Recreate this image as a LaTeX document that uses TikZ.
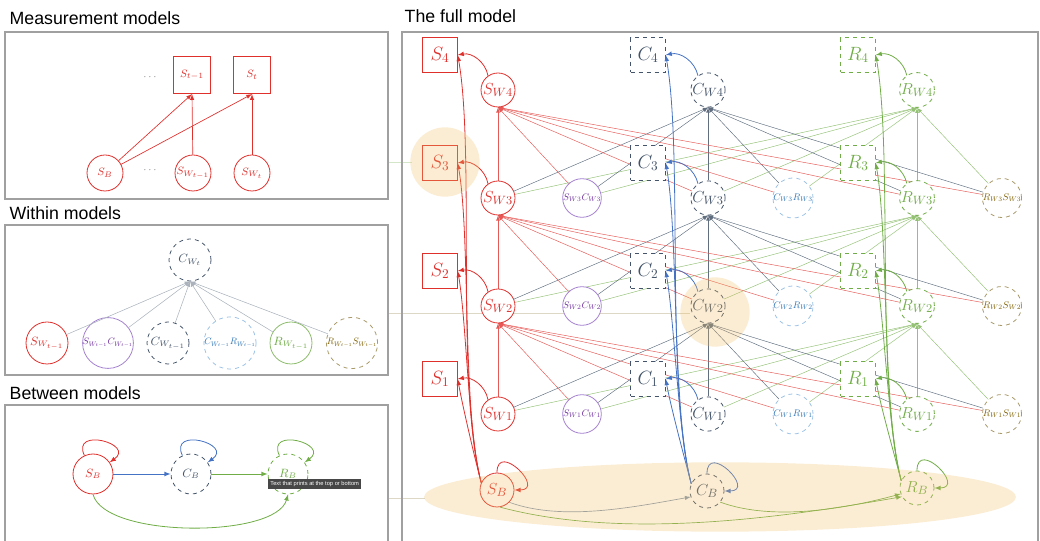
\documentclass[tikz,border=0pt]{standalone}
\usepackage[no-math]{fontspec}
\setmainfont{Liberation Sans}
\usepackage{graphicx}
\usetikzlibrary{positioning,backgrounds}
\definecolor{sred}{RGB}{224,48,44}
\definecolor{cdark}{HTML}{44546A}
\definecolor{cblue}{HTML}{4472C4}
\definecolor{cbgray}{HTML}{8497B0}
\definecolor{rgreen}{HTML}{70AD47}
\definecolor{scpurple}{HTML}{7030A0}
\definecolor{scline}{HTML}{A582D0}
\definecolor{crblue}{HTML}{2E75B6}
\definecolor{crlight}{HTML}{9DC3E6}
\definecolor{rsolive}{HTML}{7F6000}
\definecolor{rsline}{HTML}{A99A6A}
\definecolor{panelgray}{HTML}{A0A0A0}
\definecolor{linkc}{HTML}{DDD8C6}
\definecolor{hilite}{RGB}{242,190,100}
\newcommand{\xlab}[2][0.72]{\scalebox{#1}{$#2$}}
\begin{document}
\begin{tikzpicture}[x=0.75pt,y=-0.75pt,
ttl/.style={anchor=west,font=\fontsize{13.3}{16}\selectfont},
panel/.style={draw=panelgray,line width=0.8pt},
box/.style={rectangle,draw,fill=white,line width=0.6pt,minimum size=26pt,inner sep=0pt,font=\fontsize{14}{16}\selectfont},
circ/.style={circle,draw,fill=white,line width=0.6pt,minimum size=25.5pt,inner sep=0pt,font=\fontsize{12.5}{14}\selectfont},
xlat/.style={minimum size=24pt,font=\fontsize{10}{12}\selectfont},
sobs/.style={box,draw=sred,text=sred},
cobs/.style={box,draw=cdark,text=cdark,dashed},
robs/.style={box,draw=rgreen,text=rgreen,dashed},
slat/.style={circ,draw=sred,text=sred},
clat/.style={circ,draw=cdark,text=cdark,dashed},
rlat/.style={circ,draw=rgreen,text=rgreen,dashed},
sclat/.style={circ,xlat,draw=scline,text=scpurple},
crlat/.style={circ,xlat,draw=crlight,text=crblue,dashed},
rslat/.style={circ,xlat,draw=rsline,text=rsolive,dashed},
msz/.style={minimum size=28pt,font=\fontsize{8}{9}\selectfont},
wsz/.style={minimum size=31.5pt,font=\fontsize{9}{10}\selectfont},
wxsz/.style={minimum size=31.5pt,font=\fontsize{10}{12}\selectfont},
bsz/.style={minimum size=30pt,font=\fontsize{9}{10}\selectfont},
sw/.style={-latex,draw=sred!80,line width=0.35pt},
cw/.style={-latex,draw=cdark!85,line width=0.35pt},
rw/.style={-latex,draw=rgreen!75,line width=0.35pt},
sarr/.style={-latex,draw=sred,line width=0.6pt},
carr/.style={-latex,draw=cblue,line width=0.6pt},
rarr/.style={-latex,draw=rgreen,line width=0.6pt},
glow/.style={fill=hilite,opacity=0.28},
link/.style={draw=linkc,line width=0.7pt}]
\useasboundingbox (0,0) rectangle (1040,541);

\node[ttl] (tm) at (5,18) {Measurement models};
\draw[panel] (5,32) rectangle (388,199);
\node[sobs,msz] (mSp) at (192,75) {$S_{t-1}$};
\node[sobs,msz] (mS) at (252,75) {$S_t$};
\node[slat,msz,minimum size=27pt] (mSB) at (105,173) {$S_B$};
\node[slat,msz,minimum size=27pt] (mSWp) at (193,173) {$S_{W_{t-1}}$};
\node[slat,msz,minimum size=27pt] (mSW) at (252,173) {$S_{W_t}$};
\node[text=black!55,font=\fontsize{7}{8}\selectfont] (md1) at (150,77) {$\cdots$};
\node[text=black!55,font=\fontsize{7}{8}\selectfont] (md2) at (150,170) {$\cdots$};
\foreach \A/\B in {mSB/mSp,mSB/mS,mSWp/mSp,mSW/mS}
 \draw[sarr,line width=0.5pt] (\A) -- (\B.south);

\node[ttl] (tw) at (5,213) {Within models};
\draw[panel] (5,225) rectangle (388,375);
\node[clat,wsz] (wCW) at (190,260) {$C_{W_t}$};
\node[slat,wsz] (wSW) at (47,343) {$S_{W_{t-1}}$};
\node[sclat,wxsz] (wSC) at (108,343) {\xlab[0.7]{S_{W_{t-1}}C_{W_{t-1}}}};
\node[clat,wsz] (wC) at (168,343) {$C_{W_{t-1}}$};
\node[crlat,wxsz] (wCR) at (230,343) {\xlab[0.7]{C_{W_{t-1}}R_{W_{t-1}}}};
\node[circ,wsz,draw=rgreen!80,text=rgreen] (wR) at (291,343) {$R_{W_{t-1}}$};
\node[rslat,wxsz] (wRS) at (352,343) {\xlab[0.7]{R_{W_{t-1}}S_{W_{t-1}}}};
\foreach \N in {wSW,wSC,wC,wCR,wR,wRS}
 \draw[-latex,draw=cdark!45,line width=0.4pt] (\N) -- (wCW.south);

\node[ttl] (tb) at (5,393) {Between models};
\draw[panel] (5,545) |- (388,405) -- (388,545);
\node[slat,bsz] (bSB) at (93,474) {$S_B$};
\node[clat,bsz] (bCB) at (191,474) {$C_B$};
\node[rlat,bsz] (bRB) at (288,474) {$R_B$};
\draw[sarr] (bSB) to[out=115,in=35,min distance=24pt] (bSB);
\draw[carr] (bCB) to[out=115,in=35,min distance=24pt] (bCB);
\draw[rarr] (bRB) to[out=115,in=35,min distance=24pt] (bRB);
\draw[carr] (bSB) -- (bCB);
\draw[rarr] (bCB) -- (bRB);
\draw[rarr] (bSB.south) to[out=-75,in=-105,looseness=0.6] (bRB.south);
\node[fill=black!72,text=white,font=\fontsize{4.3}{5}\selectfont,inner sep=1.6pt,anchor=north west] (tip) at (268,479) {Text that prints at the top or bottom};

\node[ttl] (tf) at (400,16) {The full model};
\draw[panel] (402,545) |- (1038,32) -- (1038,545);
\foreach \T/\Y in {1/414,2/306,3/198,4/90}
{\node[sobs] (S\T) at (440,\Y-35) {$S_{\T}$};
 \node[slat] (SW\T) at (498,\Y) {$S_{W\T}$};
 \node[cobs] (C\T) at (648,\Y-35) {$C_{\T}$};
 \node[clat] (CW\T) at (708,\Y) {$C_{W\T}$};
 \node[robs] (R\T) at (858,\Y-35) {$R_{\T}$};
 \node[rlat] (RW\T) at (917,\Y) {$R_{W\T}$};}
\foreach \T/\Y in {1/414,2/306,3/198}
{\node[sclat] (SC\T) at (582,\Y) {\xlab{S_{W\T}C_{W\T}}};
 \node[crlat] (CR\T) at (793,\Y) {\xlab{C_{W\T}R_{W\T}}};
 \node[rslat] (RS\T) at (1002,\Y) {\xlab{R_{W\T}S_{W\T}}};}
\node[slat] (SB) at (497,490) {$S_B$};
\node[clat] (CB) at (707,491) {$C_B$};
\node[rlat] (RB) at (917,488) {$R_B$};

\begin{scope}[on background layer]
 \foreach \P/\T in {1/2,2/3,3/4}
 {\foreach \N in {SW,SC,CW,CR,RW,RS}
  {\draw[sw] (\N\P) -- (SW\T.south);
   \draw[cw] (\N\P) -- (CW\T.south);
   \draw[rw] (\N\P) -- (RW\T.south);}}
 \draw[link,draw=rgreen!30] (388,162) -- (412,162);
 \draw[link] (388,313) -- (690,313);
 \draw[link] (388,498) -- (425,498);
\end{scope}

\foreach \T in {1,2,3,4}
{\draw[sarr] (SW\T.125) to[bend right=45] (S\T.east);
 \draw[sarr] (SB.155) to[out=105,in=-80,looseness=0.6] (S\T.east);
 \draw[carr] (CW\T.125) to[bend right=45] (C\T.east);
 \draw[carr] (CB.155) to[out=105,in=-80,looseness=0.6] (C\T.east);
 \draw[rarr] (RW\T.125) to[bend right=45] (R\T.east);
 \draw[rarr] (RB.155) to[out=105,in=-80,looseness=0.6] (R\T.east);}
\draw[sarr] (SB) to[out=90,in=0,min distance=24pt] (SB);
\draw[carr] (CB) to[out=90,in=0,min distance=24pt] (CB);
\draw[rarr] (RB) to[out=90,in=0,min distance=24pt] (RB);
\draw[-latex,draw=cbgray,line width=0.5pt] (SB.-45) to[out=-20,in=-170,looseness=0.8] (CB.-160);
\draw[rarr,line width=0.5pt] (SB.-80) to[out=-15,in=-170,looseness=0.8] (RB.-150);
\draw[rarr,line width=0.5pt] (CB.-40) to[out=-20,in=-165,looseness=0.8] (RB.-160);

\fill[glow] (445,162) circle[radius=26pt];
\fill[glow] (715,312) circle[radius=26pt];
\fill[glow] (720,497) ellipse[x radius=222pt,y radius=26pt];
\end{tikzpicture}
\end{document}
